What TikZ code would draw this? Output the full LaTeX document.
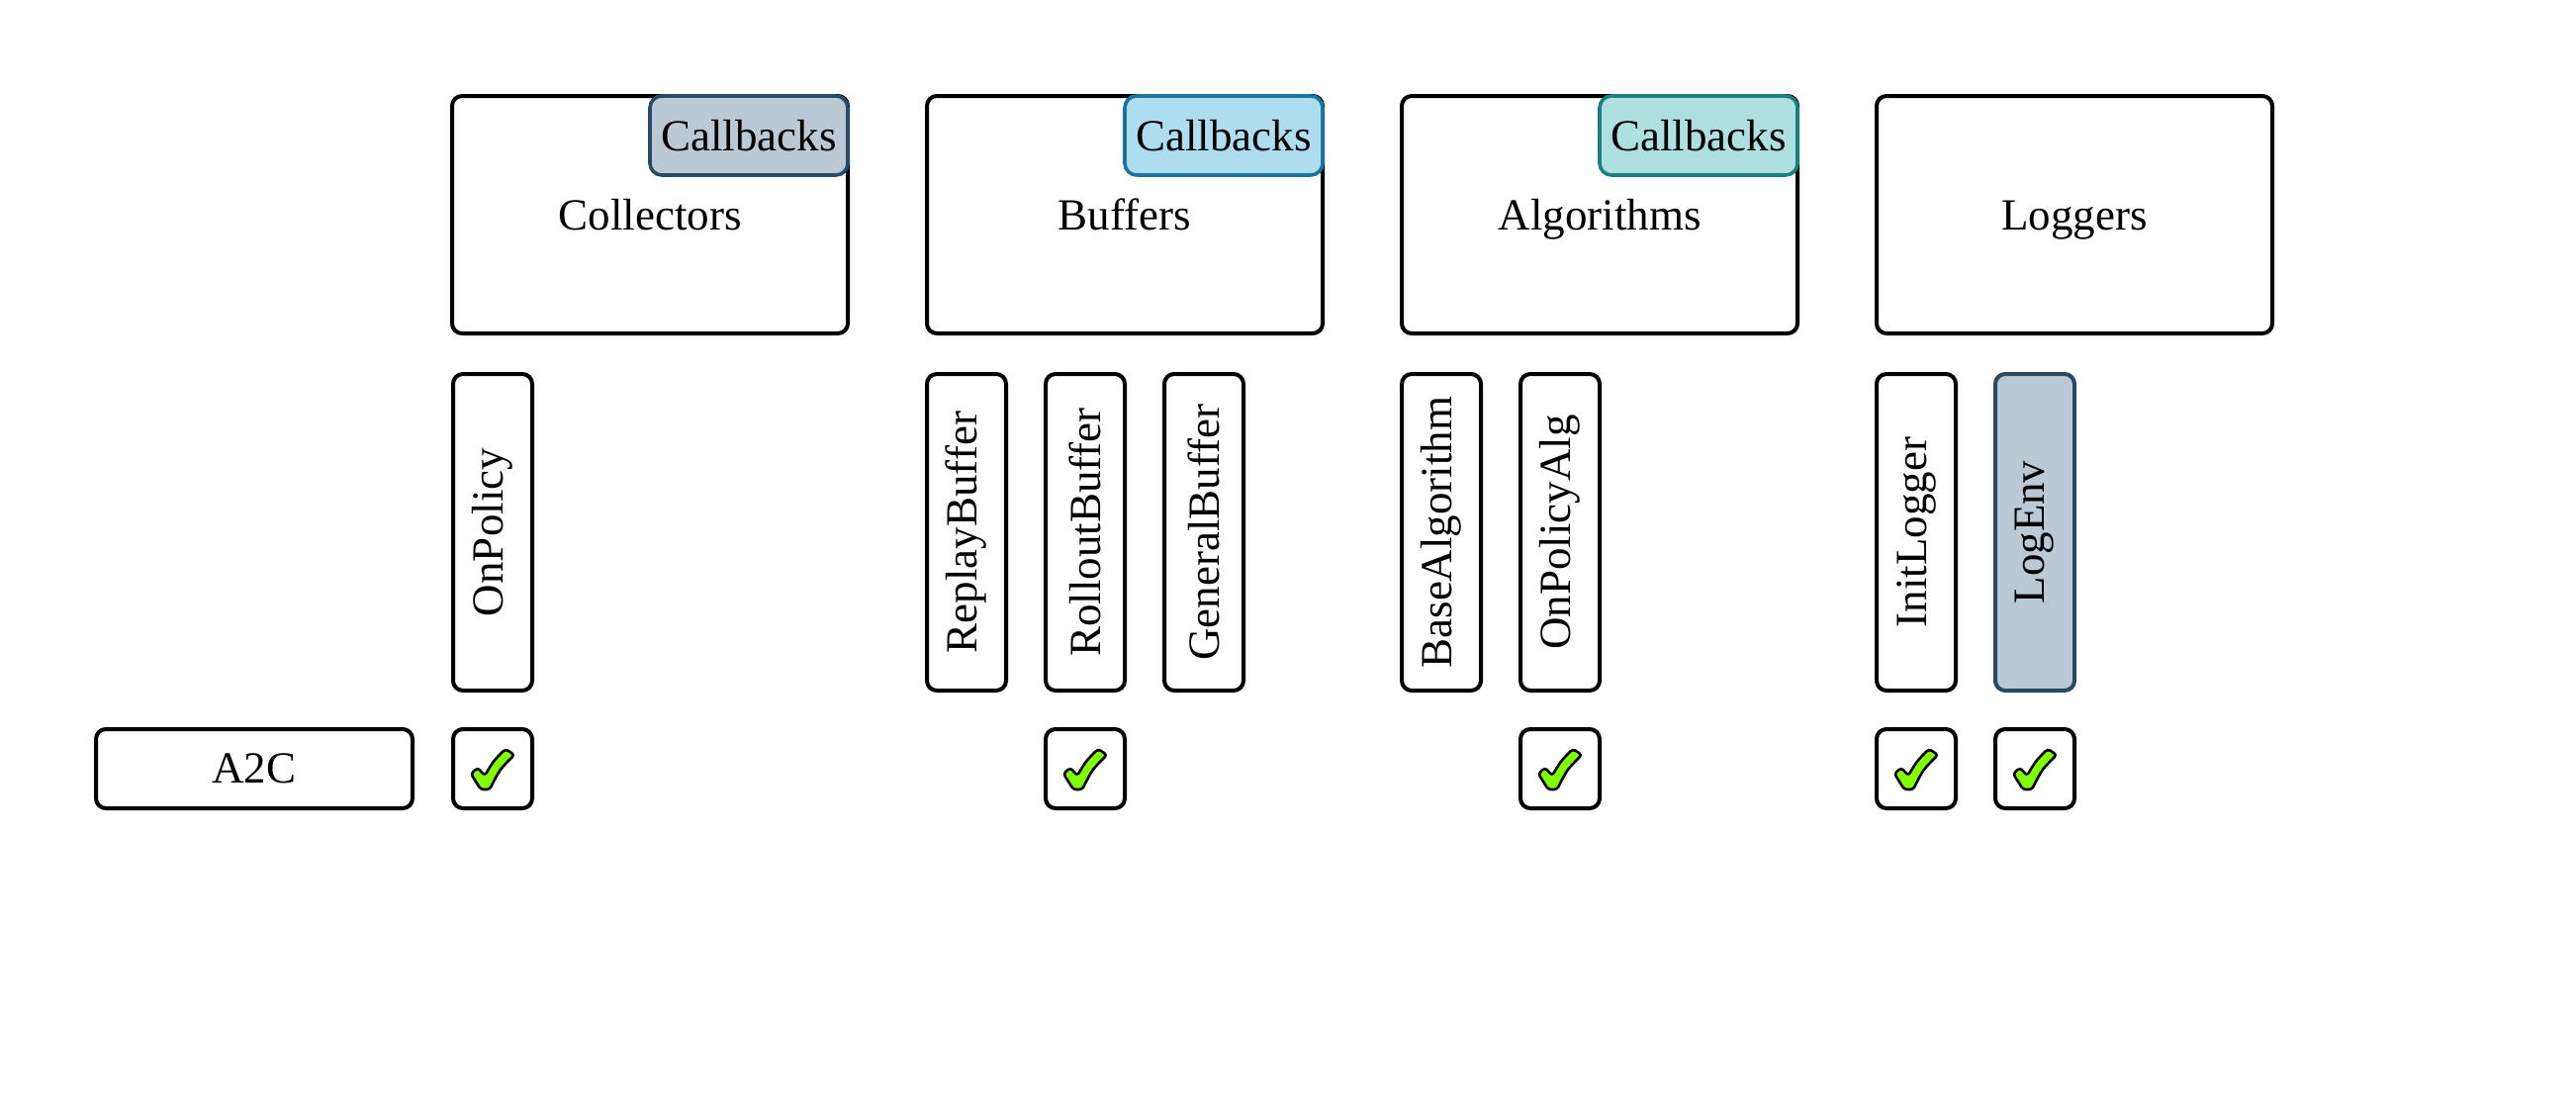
\documentclass[tikz,border=0pt]{standalone}
\usepackage{fontspec}
\setmainfont{Liberation Serif}
\definecolor{cbAfill}{HTML}{BAC9D4}
\definecolor{cbAdraw}{HTML}{284A64}
\definecolor{cbBfill}{HTML}{AEDDEF}
\definecolor{cbBdraw}{HTML}{1C75A0}
\definecolor{cbCfill}{HTML}{AEE0E0}
\definecolor{cbCdraw}{HTML}{1A8080}
\definecolor{checkgreen}{RGB}{127,255,0}
\tikzset{
  base/.style={draw=black, line width=2pt, rounded corners=5pt, outer sep=0pt, inner sep=0pt,
    font=\fontsize{22.5}{27}\selectfont, align=center},
  bigbox/.style={base, fill=white, minimum width=200pt, minimum height=120pt, text height=15.4pt, text depth=0pt},
  cbbox/.style={base, line width=1.8pt, rounded corners=6pt, minimum width=100pt, minimum height=40pt, anchor=north east},
  vbox/.style={base, fill=white, rotate=90, minimum width=160pt, minimum height=40pt},
  chkbox/.style={base, fill=white, minimum width=40pt, minimum height=40pt},
  algbox/.style={base, fill=white, minimum width=160pt, minimum height=40pt},
  tick/.pic={
    \draw[fill=checkgreen, draw=black, line width=1.3pt, line join=round, rounded corners=1.5pt]
      (-22,5) -- (-15,-1) -- (-8,7) .. controls (1,-8) .. (13,-20) -- (22,-14)
      .. controls (7,1) .. (-3,21) -- (-12,21) -- cycle;
  }
}
\begin{document}
\begin{tikzpicture}[x=0.5pt,y=-0.5pt]
\useasboundingbox (0,0) rectangle (2604,1124);
% big boxes
\node[bigbox] (coll) at (657,217) {Collectors};
\node[bigbox] (buf) at (1137,217) {Buffers};
\node[bigbox] (alg) at (1617,217) {Algorithms};
\node[bigbox] (log) at (2097,217) {Loggers};
% callbacks
\node[cbbox, fill=cbAfill, draw=cbAdraw] (cb1) at (coll.north east) {Callbacks};
\node[cbbox, fill=cbBfill, draw=cbBdraw] (cb2) at (buf.north east) {Callbacks};
\node[cbbox, fill=cbCfill, draw=cbCdraw] (cb3) at (alg.north east) {Callbacks};
% vertical boxes
\node[vbox] (onp) at (498,538) {OnPolicy};
\node[vbox] (rep) at (977,538) {ReplayBuffer};
\node[vbox] (rol) at (1097,538) {RolloutBuffer};
\node[vbox] (gen) at (1217,538) {GeneralBuffer};
\node[vbox] (bal) at (1457,538) {BaseAlgorithm};
\node[vbox] (opa) at (1577,538) {OnPolicyAlg};
\node[vbox] (ini) at (1937,538) {InitLogger};
\node[vbox, fill=cbAfill, draw=cbAdraw] (lge) at (2057,538) {LogEnv};
% A2C row
\node[algbox] (a2c) at (257,777) {A2C};
\node[chkbox] (c1) at (498,777) {};
\node[chkbox] (c2) at (1097,777) {};
\node[chkbox] (c3) at (1577,777) {};
\node[chkbox] (c4) at (1937,777) {};
\node[chkbox] (c5) at (2057,777) {};
\foreach \c in {c1,c2,c3,c4,c5} { \pic at (\c) {tick}; }
\end{tikzpicture}
\end{document}
